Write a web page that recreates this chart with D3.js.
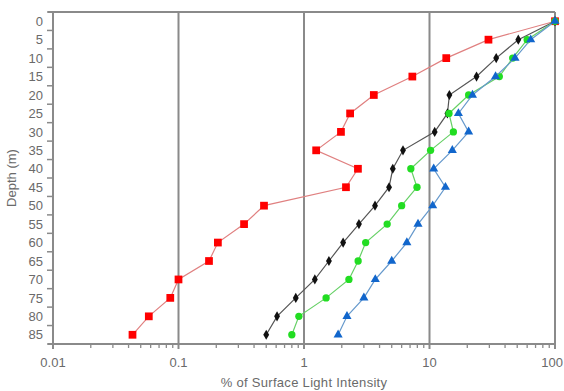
<!DOCTYPE html>
<html>
<head>
<meta charset="utf-8">
<script src="https://cdn.jsdelivr.net/npm/d3@7"></script>
<style>
  body{margin:0;background:#fff;}
  svg text{font-family:"Liberation Sans",Arial,sans-serif;fill:#6a6a6a;}
</style>
</head>
<body>
<div id="chart"></div>
<script>
// Light profile: % of surface light vs depth, four stations. Log x axis.
const depths = [0,5,10,15,20,25,30,35,40,45,50,55,60,65,70,75,80,85];
const redVals   = [100,29.5,13.6,7.3,3.6,2.33,1.97,1.25,2.69,2.16,0.48,0.333,0.206,0.175,0.1,0.086,0.058,0.043];
const blackVals = [100,51,34,23.7,14.4,13.9,11,6.15,5.1,4.76,3.68,2.74,2.05,1.58,1.22,0.86,0.61,0.5];
const greenVals = [100,60,46,36,20.5,14.3,15.5,10.2,7.1,7.95,6.0,4.6,3.1,2.7,2.28,1.5,0.91,0.8];
const blueVals  = [100,64,48,33.6,22,17,20.5,15.2,10.8,13.4,10.6,8.1,6.6,5.0,3.7,3.0,2.2,1.87];
const xTicks = [0.01,0.1,1,10,100];
const yLabels = d3.range(0,90,5);

const W=564, H=391, m={l:53,r:9,t:12,b:47};
const svg = d3.select("#chart").append("svg").attr("width",W).attr("height",H);
const x = d3.scaleLog().domain([0.01,100]).range([m.l, W-m.r]);
const y = d3.scaleLinear().domain([-2.5,87.5]).range([m.t, H-m.b]);
const axisCol="#8a8a8a";

// vertical grid at decades
svg.append("g").selectAll("line").data(xTicks.slice(1)).join("line")
  .attr("x1",d=>x(d)).attr("x2",d=>x(d)).attr("y1",y(-2.5)).attr("y2",y(87.5))
  .attr("stroke",axisCol).attr("stroke-width",2);
// frame top + left
svg.append("line").attr("x1",x(0.01)-5).attr("x2",x(100)).attr("y1",y(-2.5)).attr("y2",y(-2.5)).attr("stroke",axisCol).attr("stroke-width",2);
svg.append("line").attr("x1",x(0.01)).attr("x2",x(0.01)).attr("y1",y(-2.5)).attr("y2",y(87.5)).attr("stroke",axisCol).attr("stroke-width",2);

// x axis with minor ticks
const minor = [];
for(let e=-2;e<2;e++) for(let k=2;k<10;k++) minor.push(k*Math.pow(10,e));
const xg = svg.append("g").attr("transform",`translate(0,${y(87.5)})`);
xg.append("line").attr("x1",x(0.01)-5).attr("x2",x(100)).attr("stroke",axisCol).attr("stroke-width",2);
xg.selectAll(".mn").data(minor).join("line").attr("class","mn")
  .attr("x1",d=>x(d)).attr("x2",d=>x(d)).attr("y1",0).attr("y2",4).attr("stroke",axisCol).attr("stroke-width",1.3);
xg.selectAll(".mj").data(xTicks).join("line").attr("class","mj")
  .attr("x1",d=>x(d)).attr("x2",d=>x(d)).attr("y1",0).attr("y2",5).attr("stroke",axisCol).attr("stroke-width",2);
// last label would run off the right edge: pin it to the edge
xg.selectAll("text").data(xTicks).join("text")
  .attr("x",d=>d===100 ? W-1 : x(d)).attr("y",23)
  .attr("text-anchor",d=>d===100 ? "end" : "middle").attr("font-size",13).text(d=>d);

// y axis: ticks between labels
const yg = svg.append("g");
yg.selectAll("line").data(d3.range(-2.5,88,5)).join("line")
  .attr("x1",x(0.01)-6).attr("x2",x(0.01)).attr("y1",d=>y(d)).attr("y2",d=>y(d)).attr("stroke",axisCol).attr("stroke-width",1.5);
yg.selectAll("text").data(yLabels).join("text")
  .attr("x",43).attr("y",d=>y(d)).attr("dy",".36em").attr("text-anchor","end").attr("font-size",13).text(d=>d);

svg.append("text").attr("x",(x(0.01)+x(100))/2).attr("y",387).attr("text-anchor","middle")
  .attr("font-size",13).attr("letter-spacing",0.3).text("% of Surface Light Intensity");
svg.append("text").attr("transform",`translate(16,${(y(-2.5)+y(87.5))/2}) rotate(-90)`)
  .attr("text-anchor","middle").attr("font-size",13).text("Depth (m)");

// series
const series = [
  {vals:redVals,   line:"#e08080", fill:"#ff0000", sym:d3.symbolSquare,   size:60},
  {vals:blackVals, line:"#555555", fill:"#111111", sym:d3.symbolDiamond,  size:30},
  {vals:greenVals, line:"#66d066", fill:"#22dd22", sym:d3.symbolCircle,   size:42},
  {vals:blueVals,  line:"#6699cc", fill:"#1166cc", sym:d3.symbolTriangle, size:36}
];
const line = d3.line().x(d=>x(d[0])).y(d=>y(d[1]));
series.forEach(s=>{
  const pts = s.vals.map((v,i)=>[v,depths[i]]);
  svg.append("path").attr("d",line(pts)).attr("fill","none").attr("stroke",s.line).attr("stroke-width",1.2);
  svg.append("g").selectAll("path").data(pts).join("path")
    .attr("transform",d=>`translate(${x(d[0])},${y(d[1])})`)
    .attr("d",d3.symbol().type(s.sym).size(s.size)).attr("fill",s.fill);
});
</script>
</body>
</html>
